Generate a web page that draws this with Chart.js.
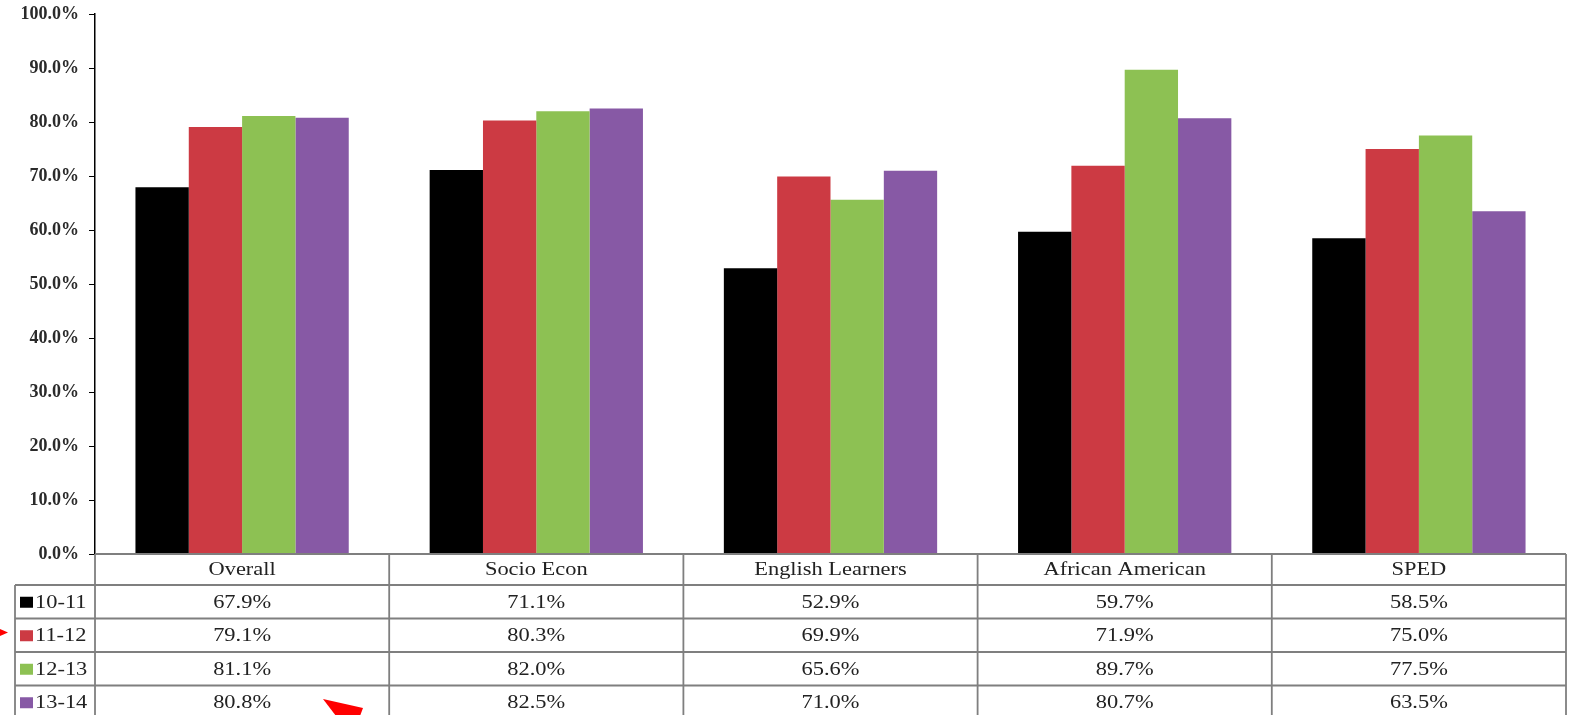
<!DOCTYPE html>
<html><head><meta charset="utf-8">
<script src="https://cdn.jsdelivr.net/npm/chart.js@4.4.0/dist/chart.umd.min.js"></script>
<style>html,body{margin:0;padding:0;background:#fff;overflow:hidden;}</style>
</head><body>
<canvas id="c" width="1571" height="715" style="display:block;width:1571px;height:715px"></canvas>
<script>
const categories = ['Overall', 'Socio Econ', 'English Learners', 'African American', 'SPED'];
const seriesLabels = ['10-11', '11-12', '12-13', '13-14'];
const s1011 = [67.9, 71.1, 52.9, 59.7, 58.5];
const s1112 = [79.1, 80.3, 69.9, 71.9, 75.0];
const s1213 = [81.1, 82.0, 65.6, 89.7, 77.5];
const s1314 = [80.8, 82.5, 71.0, 80.7, 63.5];
const yTickValues = [0, 10, 20, 30, 40, 50, 60, 70, 80, 90, 100];
const seriesColors = ['#000000', '#CC3A43', '#8DC153', '#8759A5'];

const seriesData = [s1011, s1112, s1213, s1314];

const tablePlugin = {
  id: 'dataTable',
  afterDraw(chart) {
    const ctx = chart.ctx;
    const x = chart.scales.x;
    const ca = chart.chartArea;
    const n = categories.length;
    const cw = (ca.right - ca.left) / n;
    const top = ca.bottom;
    const headH = 31;
    const rowH = 33.5;
    const legLeft = 15;
    const bottom = chart.height + 5;
    ctx.save();
    ctx.strokeStyle = '#7f7f7f';
    ctx.lineWidth = 1.8;
    ctx.beginPath();
    ctx.moveTo(ca.left, top); ctx.lineTo(ca.right, top);
    for (let r = 0; r < seriesLabels.length; r++) {
      const y = top + headH + r * rowH;
      ctx.moveTo(legLeft, y); ctx.lineTo(ca.right, y);
    }
    for (let i = 0; i <= n; i++) {
      const xx = ca.left + i * cw;
      ctx.moveTo(xx, top); ctx.lineTo(xx, bottom);
    }
    ctx.moveTo(legLeft, top + headH); ctx.lineTo(legLeft, bottom);
    ctx.stroke();

    ctx.fillStyle = '#222';
    ctx.font = '19px "Liberation Serif", "Times New Roman", serif';
    ctx.textBaseline = 'middle';
    const drawText = (t, cx, cy, align) => {
      ctx.save();
      ctx.translate(cx, cy);
      ctx.scale(1.18, 1);
      ctx.textAlign = align;
      ctx.fillText(t, 0, 0);
      ctx.restore();
    };
    for (let i = 0; i < n; i++) {
      const cx = x.getPixelForValue(i);
      drawText(categories[i], cx, top + headH / 2 + 1, 'center');
      for (let r = 0; r < seriesLabels.length; r++) {
        const cy = top + headH + r * rowH + rowH / 2 + 1;
        drawText(seriesData[r][i].toFixed(1) + '%', cx, cy, 'center');
      }
    }
    for (let r = 0; r < seriesLabels.length; r++) {
      const cy = top + headH + r * rowH + rowH / 2;
      ctx.fillStyle = seriesColors[r];
      ctx.fillRect(20, cy - 5, 13, 11);
      ctx.fillStyle = '#222';
      drawText(seriesLabels[r], 35, cy + 1, 'left');
    }

    // red annotation arrows from the source image
    ctx.fillStyle = '#ff0000';
    ctx.beginPath();
    ctx.moveTo(0, 629); ctx.lineTo(8, 632.5); ctx.lineTo(0, 636); ctx.closePath();
    ctx.fill();
    ctx.beginPath();
    ctx.moveTo(323, 699); ctx.lineTo(363, 708); ctx.lineTo(360, 716); ctx.lineTo(336, 716); ctx.closePath();
    ctx.fill();
    ctx.restore();
  }
};

new Chart(document.getElementById('c'), {
  type: 'bar',
  data: {
    labels: categories,
    datasets: seriesLabels.map((lab, i) => ({
      label: lab,
      data: seriesData[i],
      backgroundColor: seriesColors[i],
      borderWidth: 0,
      categoryPercentage: 0.725,
      barPercentage: 1.0
    }))
  },
  options: {
    responsive: false,
    devicePixelRatio: 1,
    animation: false,
    layout: { padding: { left: 0, right: 5, top: 14, bottom: 161 } },
    plugins: { legend: { display: false }, tooltip: { enabled: false } },
    scales: {
      x: { display: false },
      y: {
        min: 0, max: 100,
        afterFit(scale) { scale.width = 95; },
        afterBuildTicks(scale) { scale.ticks = yTickValues.map(v => ({ value: v })); },
        ticks: {
          padding: 10,
          color: '#2a2a2a',
          font: { family: '"Liberation Serif", "Times New Roman", serif', size: 18, weight: 'bold', lineHeight: 0.45 },
          callback: v => v.toFixed(1) + '%'
        },
        grid: { drawOnChartArea: false, drawTicks: true, tickLength: 6, color: '#000', lineWidth: 1 },
        border: { display: true, color: '#000', width: 1.5 }
      }
    }
  },
  plugins: [tablePlugin]
});
</script>
</body></html>
